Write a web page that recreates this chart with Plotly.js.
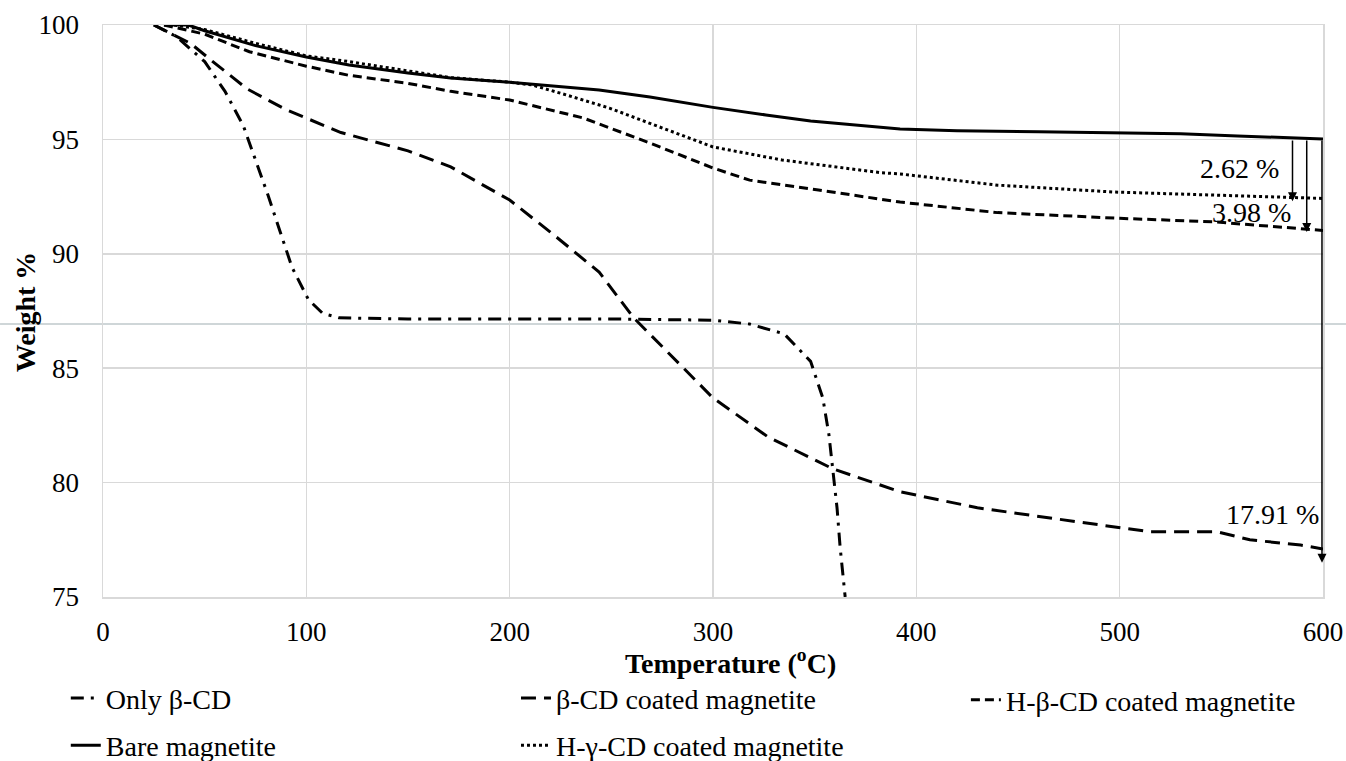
<!DOCTYPE html>
<html>
<head>
<meta charset="utf-8">
<script src="https://cdn.plot.ly/plotly-3.0.1.min.js"></script>
<style>html,body{margin:0;padding:0;background:#fff;}#chart{width:1346px;height:761px;}</style>
</head>
<body>
<div id="chart"></div>
<script>
// Only β-CD
const onlyX = [25, 36, 50, 60, 69, 75, 81, 87, 93, 101, 108, 116, 150, 200, 250, 300, 318, 335, 348, 354, 357, 361, 362.5, 365];
const onlyY = [100, 99.5, 98.4, 97.1, 95.6, 94.1, 92.6, 91.0, 89.4, 88.0, 87.4, 87.2, 87.15, 87.15, 87.15, 87.1, 86.93, 86.5, 85.3, 83.7, 82.1, 78.9, 77.2, 75.0];
// β-CD coated magnetite
const bcdX = [25, 43, 54, 71, 90, 117, 150, 171, 200, 220, 244, 261, 285, 300, 327, 359, 392, 430, 470, 515, 548, 564, 589, 600];
const bcdY = [100, 99.2, 98.4, 97.2, 96.3, 95.3, 94.5, 93.8, 92.35, 90.95, 89.2, 87.2, 85.05, 83.7, 82.0, 80.6, 79.6, 78.9, 78.4, 77.85, 77.85, 77.5, 77.27, 77.1];
// H-β-CD coated magnetite
const hbX = [30, 50, 72, 100, 121, 150, 171, 200, 236, 269, 300, 318, 351, 382, 392, 440, 500, 546, 594, 600];
const hbY = [100, 99.6, 98.83, 98.2, 97.8, 97.45, 97.1, 96.72, 95.94, 94.84, 93.75, 93.22, 92.8, 92.4, 92.26, 91.8, 91.55, 91.4, 91.08, 91.02];
// Bare magnetite
const bareX = [30, 42, 50, 75, 100, 121, 150, 171, 200, 244, 269, 300, 326, 348, 392, 420, 460, 500, 530, 558, 600];
const bareY = [100, 100, 99.75, 99.1, 98.6, 98.25, 97.9, 97.68, 97.5, 97.16, 96.85, 96.4, 96.07, 95.8, 95.45, 95.38, 95.33, 95.27, 95.25, 95.15, 95.02];
// H-γ-CD coated magnetite
const hgX = [35, 50, 75, 100, 121, 150, 171, 200, 211, 228, 249, 269, 300, 334, 382, 392, 440, 497, 550, 600];
const hgY = [100, 99.8, 99.2, 98.65, 98.4, 98.0, 97.7, 97.5, 97.38, 96.94, 96.37, 95.7, 94.67, 94.1, 93.55, 93.49, 93.0, 92.7, 92.55, 92.42];

const xTicks = [0, 100, 200, 300, 400, 500, 600];
const yTicks = [75, 80, 85, 90, 95, 100];

// weight-loss arrows
const lossX = [585, 592, 599.5];
const lossFrom = [95.02, 95.02, 95.02];
const lossTo = [92.3, 90.95, 76.5];
const lossLabels = ['2.62 %', '3.98 %', '17.91 %'];
const lossLabelX = [559, 565, 575];
const lossLabelY = [93.75, 91.8, 78.6];

const xTitle = '<b>Temperature (<sup>o</sup>C)</b>';
const yTitle = '<b>Weight %</b>';

const FONT = 'Liberation Serif';
const FS = 28;
const line = (dash) => ({color: '#000', width: 3, dash: dash});

const traces = [
  {x: onlyX, y: onlyY, name: 'Only β-CD', mode: 'lines', line: line('13px,7px,3px,7px'), legend: 'legend', legendgroup: 'a'},
  {x: bcdX, y: bcdY, name: 'β-CD coated magnetite', mode: 'lines', line: line('15px,8px'), legend: 'legend2', legendgroup: 'b'},
  {x: hbX, y: hbY, name: 'H-β-CD coated magnetite', mode: 'lines', line: line('9px,5px'), legend: 'legend3', legendgroup: 'c'},
  {x: bareX, y: bareY, name: 'Bare magnetite', mode: 'lines', line: line('solid'), legend: 'legend', legendgroup: 'd'},
  {x: hgX, y: hgY, name: 'H-γ-CD coated magnetite', mode: 'lines', line: {color: '#000', width: 3, dash: '3px,3px'}, legend: 'legend2', legendgroup: 'e'}
];

const annotations = [];
for (let i = 0; i < lossX.length; i++) {
  annotations.push({
    x: lossX[i], y: lossTo[i], ax: lossX[i], ay: lossFrom[i],
    xref: 'x', yref: 'y', axref: 'x', ayref: 'y',
    text: '', showarrow: true, arrowhead: 2, arrowsize: 1.2, arrowwidth: 1.5, arrowcolor: '#000'
  });
  annotations.push({
    x: lossLabelX[i], y: lossLabelY[i], xref: 'x', yref: 'y',
    text: lossLabels[i], showarrow: false,
    font: {family: FONT, size: FS, color: '#000'}
  });
}
// axis titles placed as annotations for exact positioning
annotations.push({
  x: 0.514, y: -0.1125, xref: 'paper', yref: 'paper', xanchor: 'center', yanchor: 'middle',
  text: xTitle, showarrow: false, font: {family: FONT, size: FS, color: '#000'}
});
annotations.push({
  x: -0.0639, y: 0.498, xref: 'paper', yref: 'paper', xanchor: 'center', yanchor: 'middle',
  text: yTitle, textangle: -90, showarrow: false, font: {family: FONT, size: FS, color: '#000'}
});

const legendBase = {
  orientation: 'v', xanchor: 'left', yanchor: 'middle',
  itemwidth: 30, tracegroupgap: 8,
  font: {family: FONT, size: FS, color: '#000'},
  bgcolor: 'rgba(0,0,0,0)', borderwidth: 0
};

const layout = {
  width: 1346, height: 761,
  margin: {l: 103, r: 23, t: 25, b: 164, autoexpand: false},
  paper_bgcolor: '#fff', plot_bgcolor: 'rgba(0,0,0,0)',
  font: {family: FONT, size: FS, color: '#000'},
  showlegend: true,
  xaxis: {
    range: [0, 600], tickvals: xTicks, ticktext: xTicks.map(String),
    showgrid: true, gridcolor: '#d9d9d9', gridwidth: 1.5,
    showline: true, linecolor: '#d9d9d9', linewidth: 1.5, mirror: true,
    zeroline: false, ticks: '', ticklabelstandoff: 10,
    tickfont: {family: FONT, size: 27, color: '#000'},
    automargin: false
  },
  yaxis: {
    range: [75, 100], tickvals: yTicks, ticktext: yTicks.map(String),
    showgrid: true, gridcolor: '#d9d9d9', gridwidth: 1.5,
    showline: true, linecolor: '#d9d9d9', linewidth: 1.5, mirror: true,
    zeroline: false, ticks: '', ticklabelstandoff: 17,
    tickfont: {family: FONT, size: 27, color: '#000'},
    automargin: false
  },
  legend: Object.assign({}, legendBase, {x: -0.0305, y: -0.2180}),
  legend2: Object.assign({}, legendBase, {x: 0.3385, y: -0.2180}),
  legend3: Object.assign({}, legendBase, {x: 0.7073, y: -0.18}),
  annotations: annotations,
  shapes: [{
    type: 'line', xref: 'paper', yref: 'paper',
    x0: -0.0844, x1: 1.019, y0: 0.4773, y1: 0.4773,
    line: {color: '#cfd6d8', width: 2}, layer: 'below'
  }]
};

Plotly.newPlot('chart', traces, layout, {displayModeBar: false, staticPlot: true});
</script>
</body>
</html>
